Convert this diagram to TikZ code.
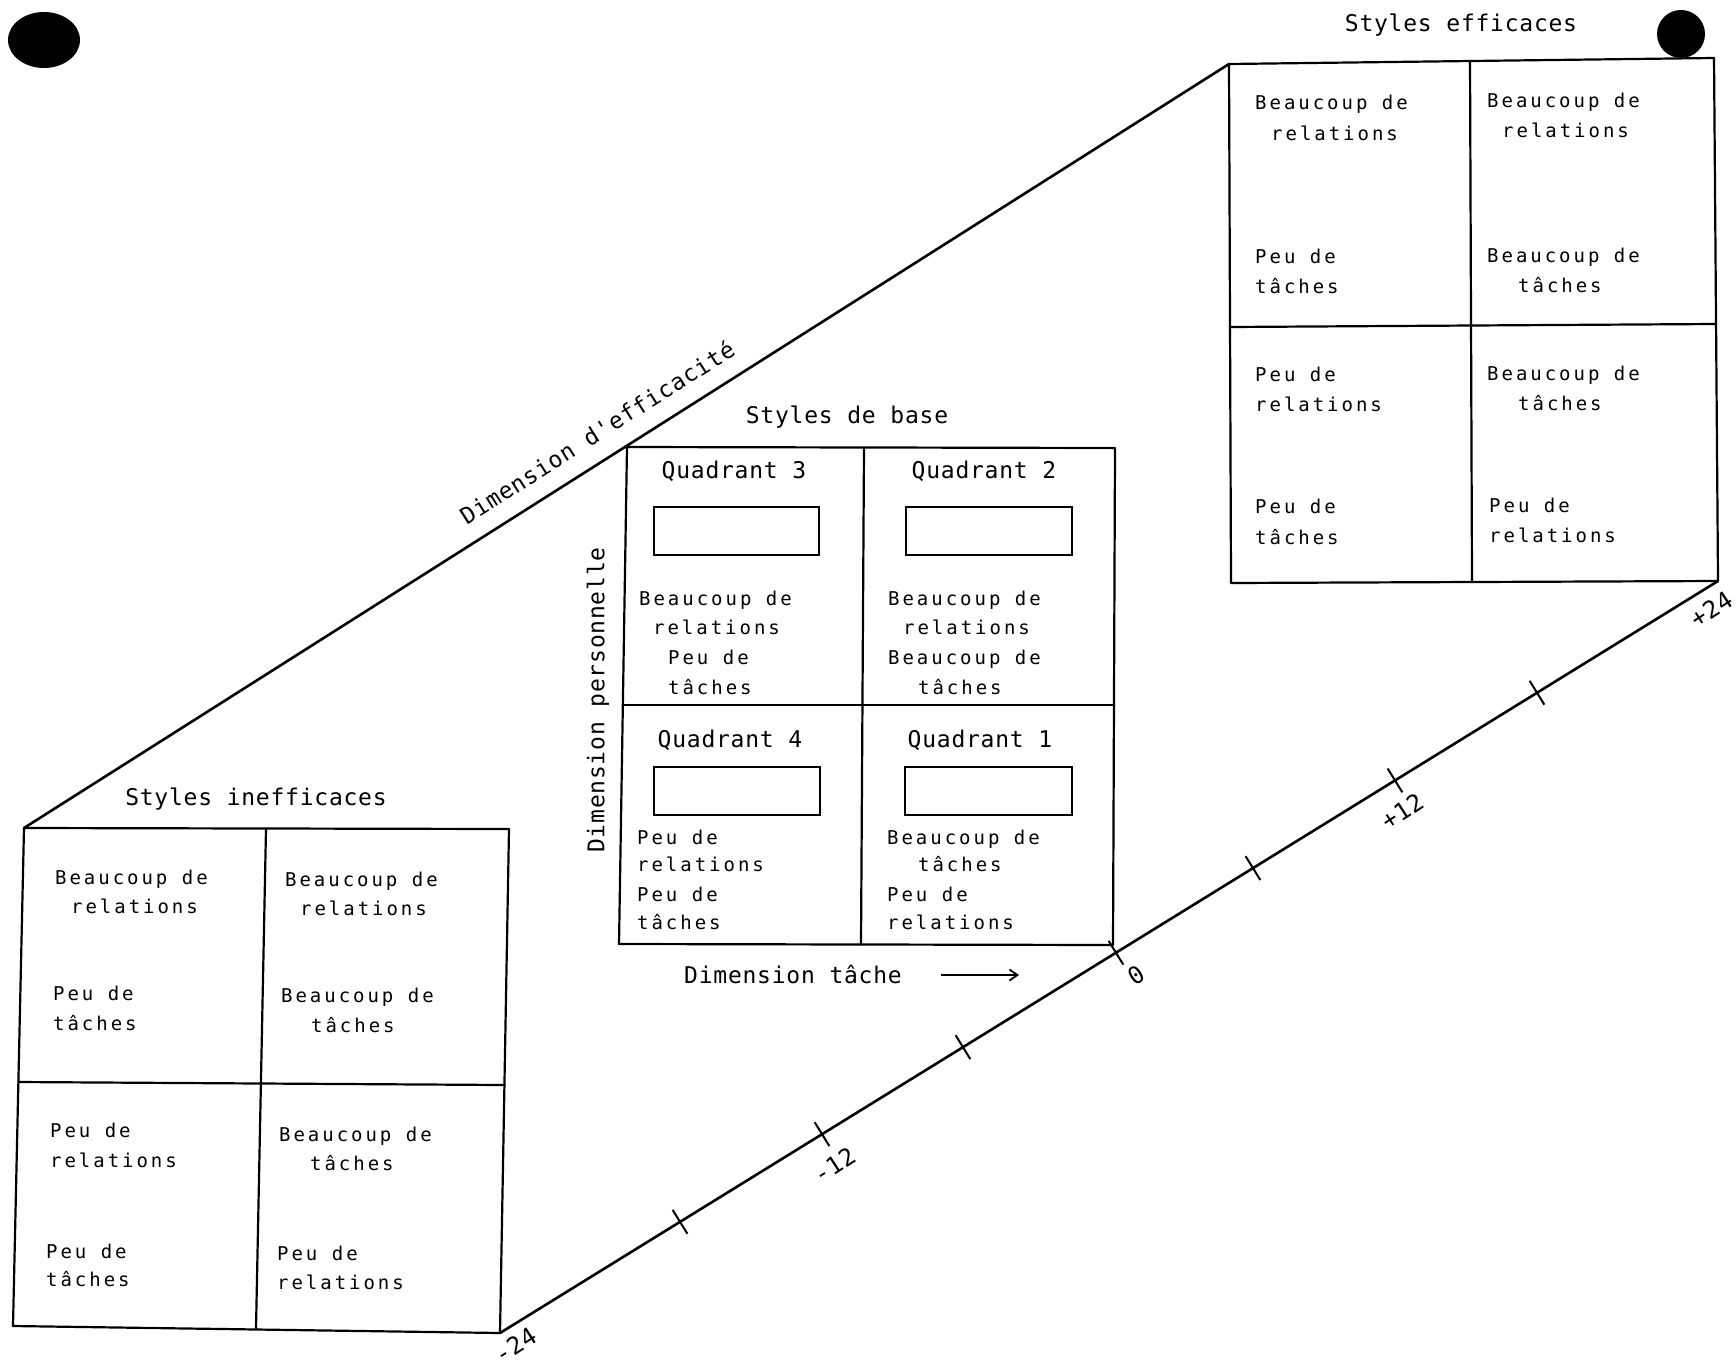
\documentclass[tikz,border=0pt]{standalone}
\usepackage{fontspec}
\setmainfont{DejaVu Sans Mono}
\newfontfamily\cellfont[LetterSpace=15.6]{DejaVu Sans Mono}
\newfontfamily\titlefont[LetterSpace=3.3]{DejaVu Sans Mono}
\usetikzlibrary{arrows.meta,calc}
\tikzset{
  frame/.style={line width=2.2pt, line join=round, line cap=round},
  inner/.style={line width=2pt},
  axis/.style={line width=2.6pt, line cap=round},
  tickmark/.style={line width=2pt},
  cell/.style={anchor=base west, inner sep=0pt, font=\cellfont\fontsize{19}{22}\selectfont},
  title/.style={inner sep=0pt, font=\titlefont\fontsize{23}{28}\selectfont},
  ticklabel/.style={inner sep=0pt, rotate=33, font=\titlefont\fontsize{24}{24}\selectfont},
}
\newcommand\tline[4]{\node[cell] (#1) at (#2,#3) {#4};}
\begin{document}
\begin{tikzpicture}[x=1pt,y=-1pt]
\useasboundingbox (0,0) rectangle (1736,1370);
\fill[white] (0,0) rectangle (1736,1370);

% blobs
\fill[black] (44,40) ellipse [x radius=36, y radius=28];
\fill[black] (1681,34) circle [radius=24];

% ---------- corners ----------
\coordinate (LTL) at (24,828);  \coordinate (LTR) at (509,829);
\coordinate (LBR) at (500,1333); \coordinate (LBL) at (13,1326);
\coordinate (CTL) at (627,447); \coordinate (CTR) at (1115,448);
\coordinate (CBR) at (1113,945); \coordinate (CBL) at (619,944);
\coordinate (RTL) at (1229,64); \coordinate (RTR) at (1714,58);
\coordinate (RBR) at (1718,581); \coordinate (RBL) at (1231,583);

% ---------- left box ----------
\draw[frame] (LTL) -- (LTR) -- (LBR) -- (LBL) -- cycle;
\coordinate (LMT) at (266,829); \coordinate (LMB) at (256,1329);
\coordinate (LML) at (18.4,1082); \coordinate (LMR) at (504.4,1085);
\draw[frame] (LMT) -- (LMB);
\draw[frame] (LML) -- (LMR);

% ---------- centre box ----------
\draw[frame] (CTL) -- (CTR) -- (CBR) -- (CBL) -- cycle;
\coordinate (CMT) at (864,447.5); \coordinate (CMB) at (861,944.5);
\coordinate (CML) at (622.8,705); \coordinate (CMR) at (1114,705);
\draw[frame] (CMT) -- (CMB);
\draw[frame] (CML) -- (CMR);
\draw[inner] (654,507) rectangle (819,555);
\draw[inner] (906,507) rectangle (1072,555);
\draw[inner] (654,767) rectangle (820,815);
\draw[inner] (905,767) rectangle (1072,815);

% ---------- right box ----------
\draw[frame] (RTL) -- (RTR) -- (RBR) -- (RBL) -- cycle;
\coordinate (RMT) at (1470,61); \coordinate (RMB) at (1472,582);
\coordinate (RML) at (1230,327); \coordinate (RMR) at (1716,324);
\draw[frame] (RMT) -- (RMB);
\draw[frame] (RML) -- (RMR);

% ---------- diagonals ----------
\draw[axis] (LTL) -- (RTL);
\draw[axis] (LBR) -- (RBR);
\foreach \t [count=\i] in {0.1478,0.2644,0.3801,0.5057,0.6182,0.7348,0.8514}{
  \coordinate (tk\i) at ($(LBR)!\t!(RBR)$);
  \draw[tickmark] ($(tk\i)!14pt!90:(RBR)$) -- ($(tk\i)!14pt!-90:(RBR)$);
}

% ---------- titles ----------
\node[title] (tEff) at (1461,25) {Styles efficaces};
\node[title] (tBase) at (847,417) {Styles de base};
\node[title] (tIneff) at (256,799) {Styles inefficaces};
\node[title] (q3) at (734,471) {Quadrant 3};
\node[title] (q2) at (984,471) {Quadrant 2};
\node[title] (q4) at (730,740) {Quadrant 4};
\node[title] (q1) at (980,740) {Quadrant 1};
\node[title] (dimT) at (793,974) {Dimension tâche};
\node[title, rotate=32.4] (dimE) at (597,432) {Dimension d'efficacité};
\node[title, rotate=90] (dimP) at (598,700) {Dimension personnelle};
\coordinate (arrS) at (941,975); \coordinate (arrE) at (1019,975);
\draw[line width=1.8pt, -{Straight Barb[length=8pt,width=11pt]}] (arrS) -- (arrE);

% tick labels
\node[ticklabel] (lm24) at (515,1345) {-24};
\node[ticklabel] (lm12) at (834,1165) {-12};
\node[ticklabel] (l0) at (1136,975) {0};
\node[ticklabel] (lp12) at (1402,811) {+12};
\node[ticklabel] (lp24) at (1711,609) {+24};

% ---------- centre box texts ----------
\tline{c3a}{639}{605}{Beaucoup de}
\tline{c3b}{653}{634}{relations}
\tline{c3c}{668}{664}{Peu de}
\tline{c3d}{668}{694}{tâches}
\tline{c2a}{888}{605}{Beaucoup de}
\tline{c2b}{903}{634}{relations}
\tline{c2c}{888}{664}{Beaucoup de}
\tline{c2d}{918}{694}{tâches}
\tline{c4a}{637}{844}{Peu de}
\tline{c4b}{637}{871}{relations}
\tline{c4c}{637}{901}{Peu de}
\tline{c4d}{637}{929}{tâches}
\tline{c1a}{887}{844}{Beaucoup de}
\tline{c1b}{918}{871}{tâches}
\tline{c1c}{887}{901}{Peu de}
\tline{c1d}{887}{929}{relations}

% ---------- left box texts ----------
\tline{l1a}{55}{884}{Beaucoup de}
\tline{l1b}{71}{913}{relations}
\tline{l1c}{53}{1000}{Peu de}
\tline{l1d}{53}{1030}{tâches}
\tline{l2a}{285}{886}{Beaucoup de}
\tline{l2b}{300}{915}{relations}
\tline{l2c}{281}{1002}{Beaucoup de}
\tline{l2d}{311}{1032}{tâches}
\tline{l3a}{50}{1137}{Peu de}
\tline{l3b}{50}{1167}{relations}
\tline{l3c}{46}{1258}{Peu de}
\tline{l3d}{46}{1286}{tâches}
\tline{l4a}{279}{1141}{Beaucoup de}
\tline{l4b}{310}{1170}{tâches}
\tline{l4c}{277}{1260}{Peu de}
\tline{l4d}{277}{1289}{relations}

% ---------- right box texts ----------
\tline{r1a}{1255}{110}{Beaucoup de}
\tline{r1b}{1271}{140}{relations}
\tline{r1c}{1255}{263}{Peu de}
\tline{r1d}{1255}{293}{tâches}
\tline{r2a}{1487}{108}{Beaucoup de}
\tline{r2b}{1502}{138}{relations}
\tline{r2c}{1487}{262}{Beaucoup de}
\tline{r2d}{1518}{292}{tâches}
\tline{r3a}{1255}{381}{Peu de}
\tline{r3b}{1255}{411}{relations}
\tline{r3c}{1255}{513}{Peu de}
\tline{r3d}{1255}{544}{tâches}
\tline{r4a}{1487}{380}{Beaucoup de}
\tline{r4b}{1518}{410}{tâches}
\tline{r4c}{1489}{512}{Peu de}
\tline{r4d}{1489}{542}{relations}
\end{tikzpicture}
\end{document}
